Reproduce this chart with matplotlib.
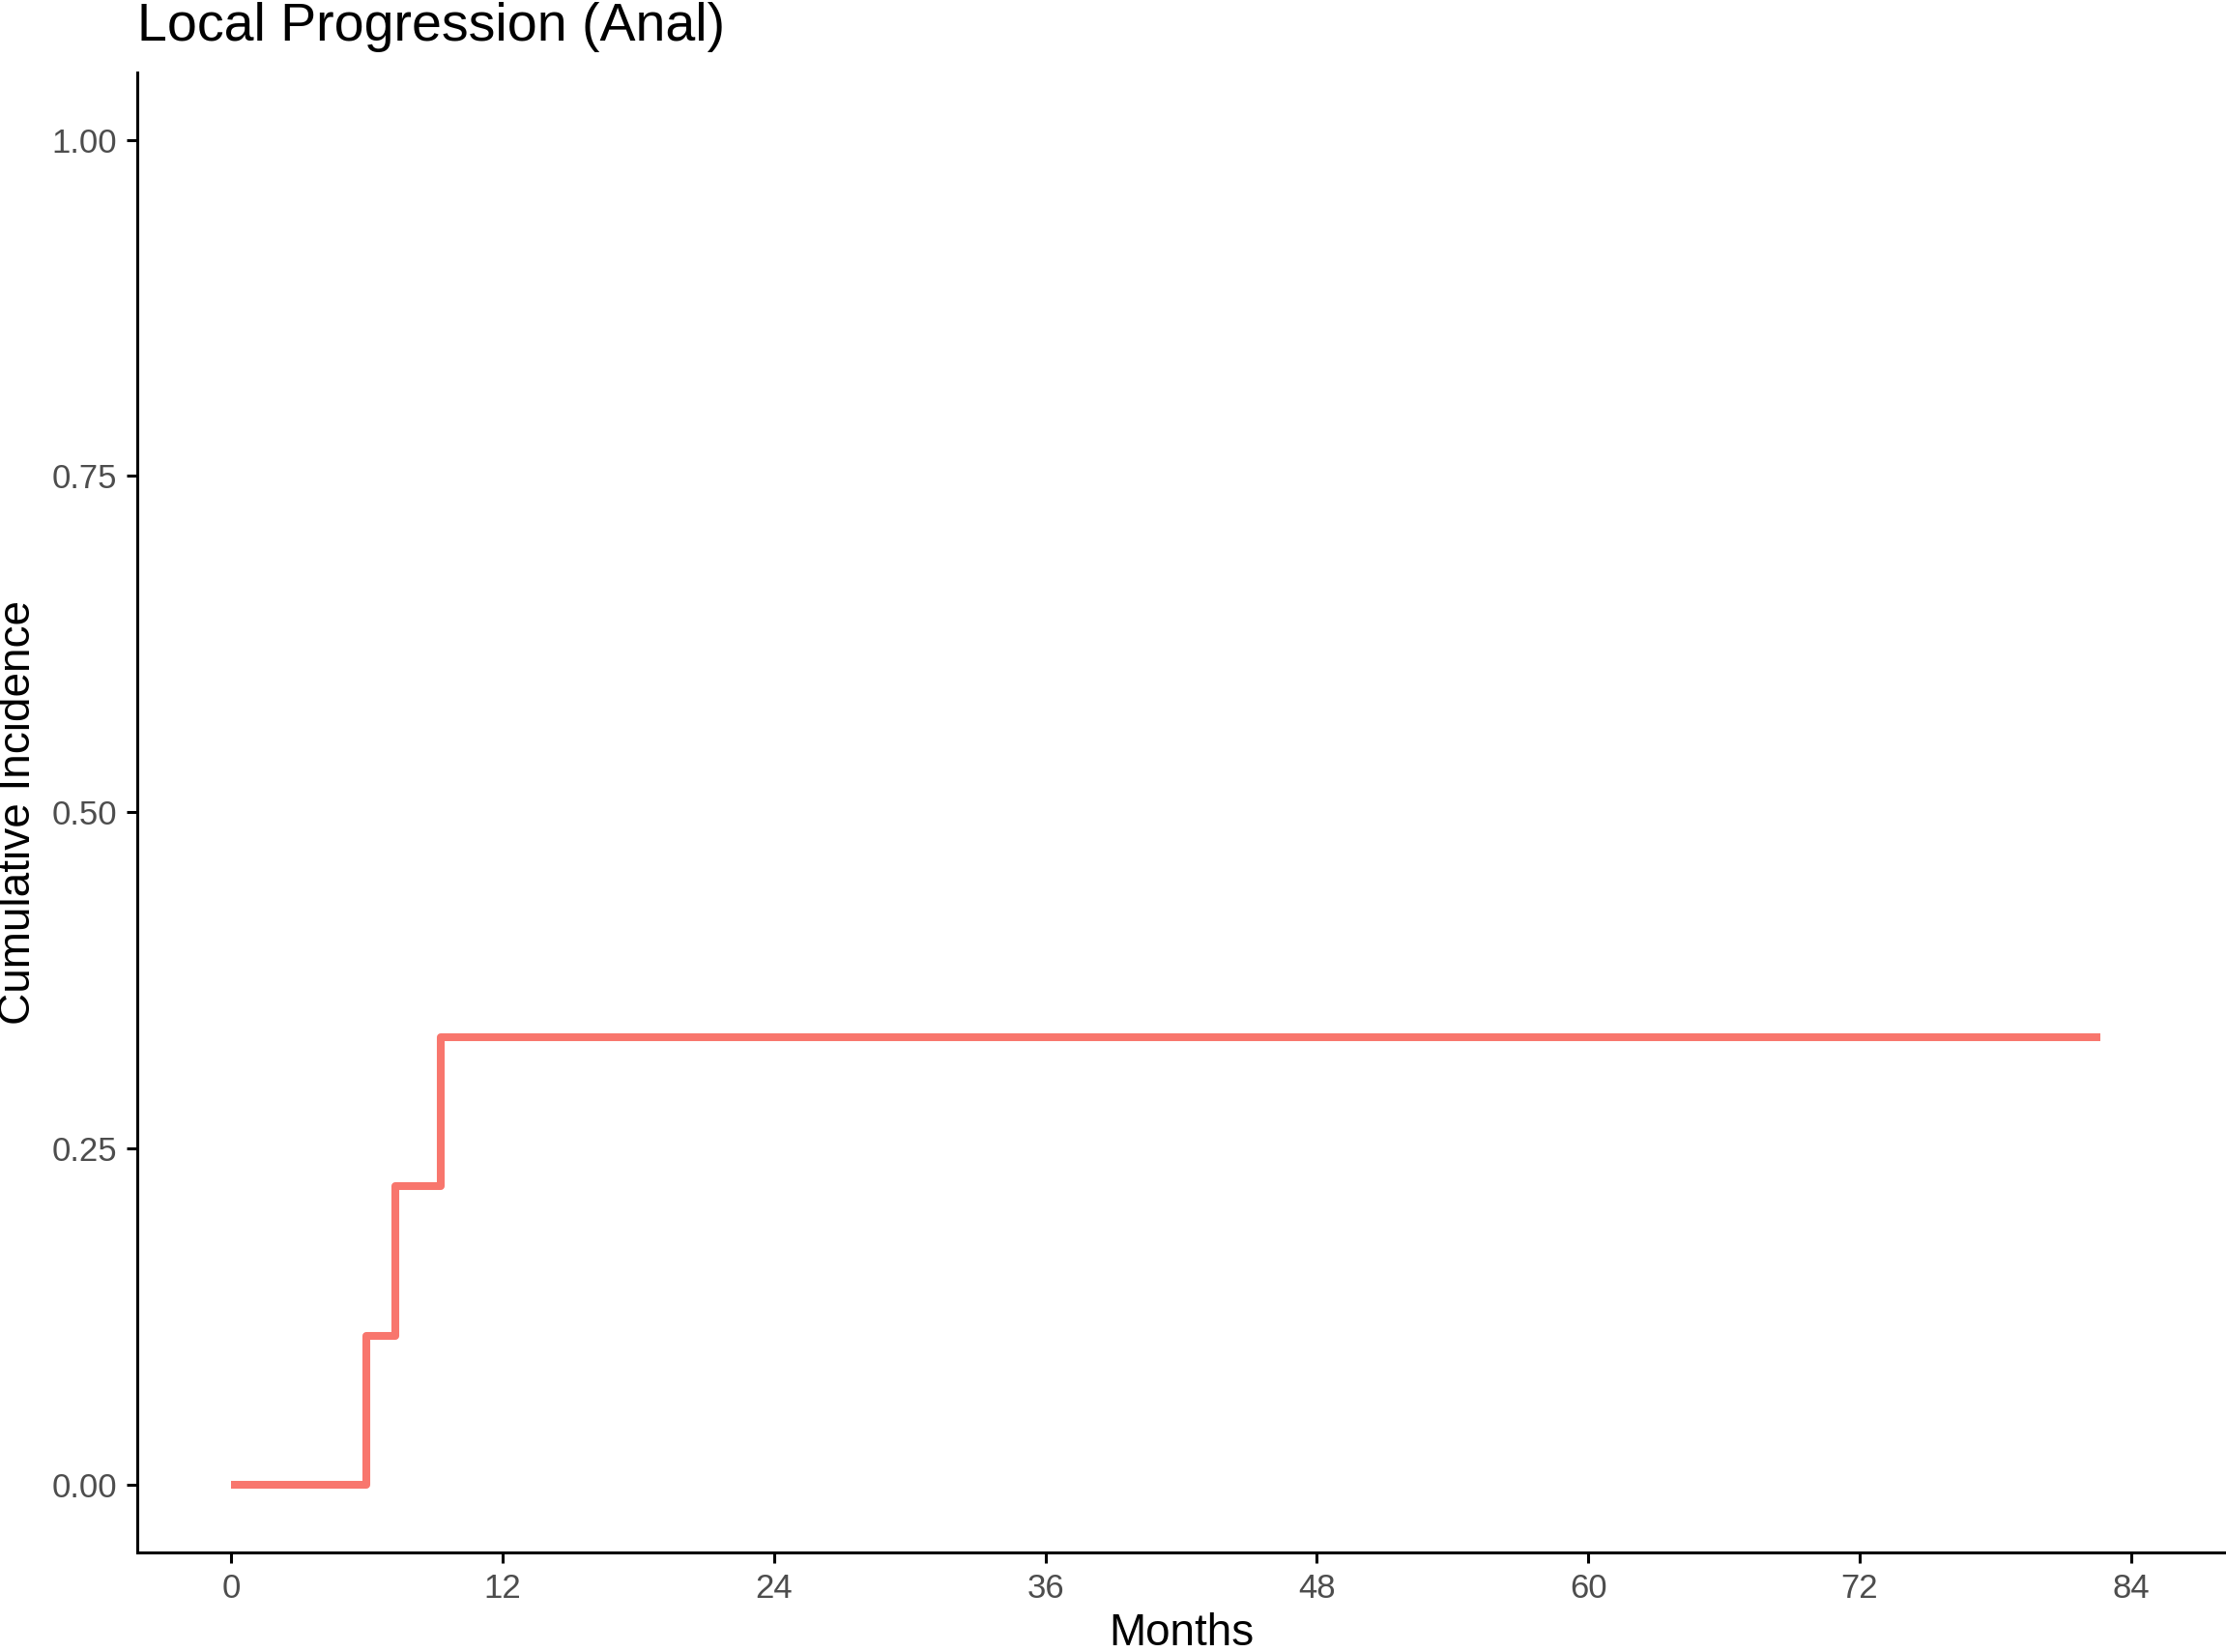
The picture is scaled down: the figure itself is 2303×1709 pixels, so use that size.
import matplotlib
matplotlib.use("Agg")
import matplotlib.pyplot as plt

# Data
months = [0.0, 5.98, 7.24, 9.26, 82.65]
cum_incidence = [0.0, 0.111, 0.222, 0.333, 0.333]
x_ticks = [0, 12, 24, 36, 48, 60, 72, 84]
y_ticks = [0.00, 0.25, 0.50, 0.75, 1.00]
y_tick_labels = ["0.00", "0.25", "0.50", "0.75", "1.00"]

plt.rcParams['font.family'] = ['Liberation Sans', 'DejaVu Sans']

W, H = 2303, 1709
fig = plt.figure(figsize=(W / 100, H / 100), dpi=100)
left, right, bottom, top = 141.7, 2303, 1605.7, 75
ax = fig.add_axes([left / W, 1 - bottom / H, (right - left) / W, (bottom - top) / H])

ax.plot(months, cum_incidence, drawstyle='steps-post', color='#F8766D',
        linewidth=5.8, solid_capstyle='butt', solid_joinstyle='round')

ax.set_xlim(-4.18, 88.2)
ax.set_ylim(-0.05, 1.05)
ax.set_xticks(x_ticks)
ax.set_xticklabels([str(t) for t in x_ticks])
ax.set_yticks(y_ticks)
ax.set_yticklabels(y_tick_labels)

for s in ['top', 'right']:
    ax.spines[s].set_visible(False)
for s in ['left', 'bottom']:
    ax.spines[s].set_linewidth(2.2)
    ax.spines[s].set_color('black')

ax.tick_params(axis='both', length=8, width=2.2, color='black',
               labelsize=25, labelcolor='#4D4D4D', pad=7)

ax.set_xlabel('Months', fontsize=33, color='black', labelpad=6)
ax.set_ylabel('Cumulative Incidence', fontsize=33, color='black', labelpad=9)
ax.set_title('Local Progression (Anal)', loc='left', fontsize=40, color='black', pad=24)

fig.savefig('out.png', dpi=100, facecolor='white')
